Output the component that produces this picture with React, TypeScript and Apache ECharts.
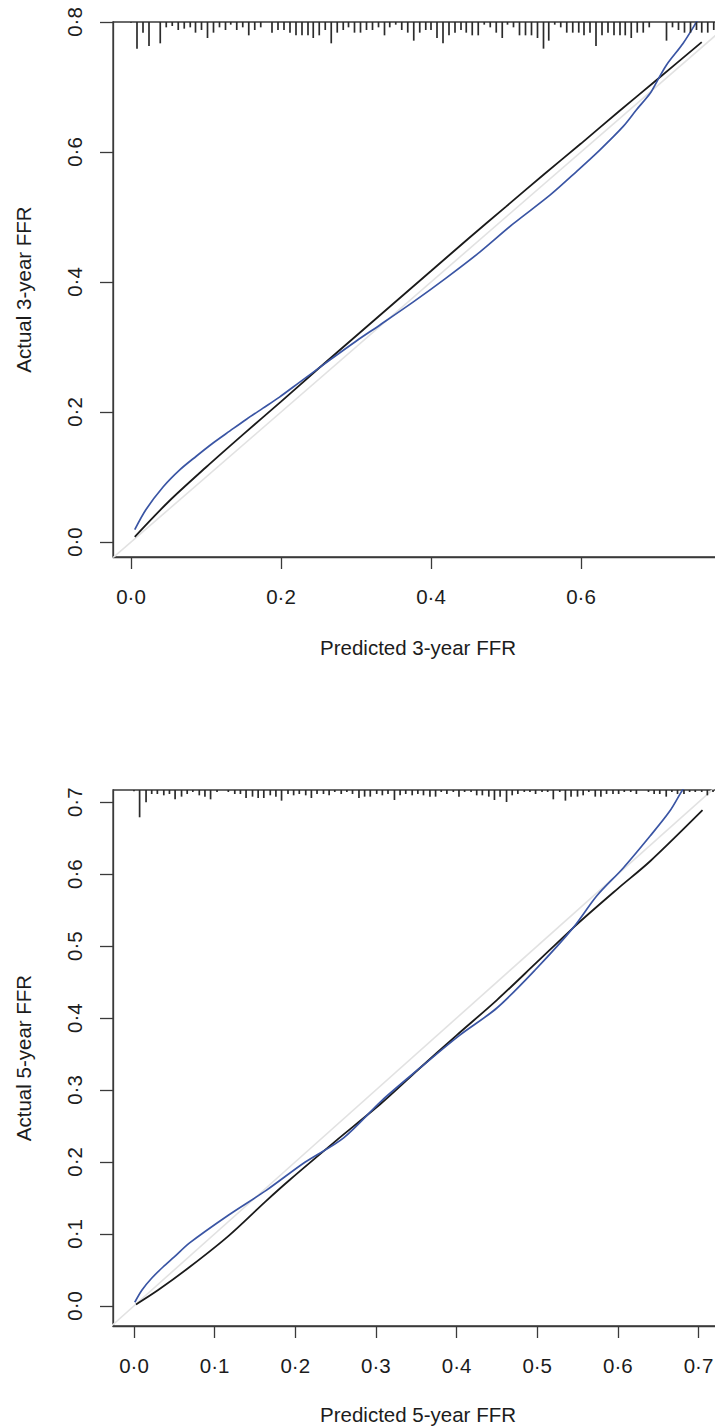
import React, { useEffect, useRef } from 'react';
import * as echarts from 'echarts';

// ---- Panel 1: 3-year FFR ----
const xTicks3 = [0, 0.2, 0.4, 0.6];
const yTicks3 = [0, 0.2, 0.4, 0.6, 0.8];
const black3: [number, number][] = [
  [0.005, 0.008], [0.05, 0.062], [0.1, 0.115], [0.15, 0.166], [0.2, 0.216], [0.25, 0.267],
  [0.3, 0.317], [0.35, 0.367], [0.4, 0.417], [0.45, 0.467], [0.5, 0.516], [0.55, 0.565],
  [0.6, 0.613], [0.65, 0.662], [0.7, 0.71], [0.761, 0.769],
];
const blue3: [number, number][] = [
  [0.005, 0.019], [0.02, 0.05], [0.043, 0.085], [0.065, 0.111], [0.087, 0.132], [0.109, 0.152],
  [0.132, 0.171], [0.154, 0.189], [0.176, 0.206], [0.198, 0.223], [0.225, 0.246], [0.265, 0.28],
  [0.3, 0.309], [0.332, 0.334], [0.376, 0.369], [0.42, 0.406], [0.465, 0.446], [0.509, 0.489],
  [0.559, 0.534], [0.594, 0.57], [0.625, 0.603], [0.656, 0.639], [0.674, 0.665], [0.692, 0.69],
  [0.701, 0.708], [0.714, 0.734], [0.736, 0.767], [0.754, 0.8], [0.76, 0.812],
];
// rug of predicted values: [predicted, relative frequency]
const rug3: [number, number][] = [
  [0.000, 0.25], [0.008, 10], [0.016, 4], [0.024, 9], [0.039, 8], [0.047, 2], [0.055, 1.5], [0.063, 3],
  [0.071, 2.5], [0.079, 2], [0.086, 4], [0.094, 3], [0.102, 6], [0.110, 4], [0.118, 2], [0.126, 3],
  [0.133, 1], [0.141, 3], [0.149, 2], [0.157, 5], [0.165, 3], [0.173, 2], [0.188, 4], [0.196, 3],
  [0.204, 3], [0.212, 4], [0.220, 5], [0.228, 5], [0.236, 5], [0.243, 6], [0.251, 5], [0.259, 3],
  [0.267, 8], [0.275, 4], [0.283, 3], [0.290, 2], [0.298, 4], [0.306, 4], [0.314, 3], [0.322, 3],
  [0.330, 2], [0.338, 5], [0.345, 2], [0.353, 1], [0.361, 3], [0.369, 4], [0.377, 7], [0.385, 4],
  [0.393, 3], [0.400, 3], [0.408, 6], [0.416, 8], [0.424, 5], [0.432, 4], [0.440, 3], [0.447, 4],
  [0.455, 5], [0.463, 5], [0.471, 1], [0.479, 2], [0.487, 4], [0.495, 6], [0.502, 1], [0.510, 2],
  [0.518, 5], [0.526, 5], [0.534, 5], [0.542, 6], [0.550, 10], [0.557, 7], [0.565, 1], [0.573, 2],
  [0.581, 4], [0.589, 4], [0.597, 4], [0.604, 5], [0.612, 4], [0.620, 9], [0.628, 5], [0.636, 4],
  [0.644, 5], [0.652, 5], [0.659, 5], [0.667, 6], [0.675, 4], [0.683, 4], [0.691, 2], [0.714, 7],
  [0.722, 2], [0.730, 3], [0.738, 4], [0.746, 4], [0.754, 3], [0.761, 4], [0.769, 4], [0.777, 3],
];

// ---- Panel 2: 5-year FFR ----
const xTicks5 = [0, 0.1, 0.2, 0.3, 0.4, 0.5, 0.6, 0.7];
const yTicks5 = [0, 0.1, 0.2, 0.3, 0.4, 0.5, 0.6, 0.7];
const black5: [number, number][] = [
  [0.0025, 0.002], [0.03, 0.022], [0.069, 0.054], [0.117, 0.097], [0.164, 0.146], [0.193, 0.175],
  [0.25, 0.229], [0.307, 0.282], [0.355, 0.331], [0.4, 0.376], [0.45, 0.425], [0.5, 0.478],
  [0.55, 0.531], [0.6, 0.58], [0.64, 0.618], [0.705, 0.689],
];
const blue5: [number, number][] = [
  [0.001, 0.005], [0.01, 0.022], [0.0216, 0.038], [0.036, 0.054], [0.05, 0.068], [0.069, 0.0875],
  [0.117, 0.126], [0.164, 0.1605], [0.212, 0.1996], [0.26, 0.2336], [0.307, 0.285], [0.355, 0.331],
  [0.4025, 0.375], [0.45, 0.414], [0.498, 0.4675], [0.545, 0.526], [0.574, 0.57], [0.607, 0.609],
  [0.64, 0.653], [0.664, 0.687], [0.678, 0.713], [0.682, 0.72],
];
const rug5: [number, number][] = [
  [0.000, 1], [0.007, 20.5], [0.015, 9.25], [0.022, 3], [0.029, 3], [0.037, 4], [0.044, 3], [0.051, 7],
  [0.059, 5], [0.066, 3], [0.073, 1.5], [0.081, 4], [0.088, 5], [0.095, 7], [0.103, 1.5], [0.117, 1.5],
  [0.125, 3], [0.132, 3], [0.139, 6], [0.147, 5], [0.154, 6], [0.161, 6], [0.169, 4], [0.176, 5],
  [0.183, 8], [0.191, 3], [0.198, 4], [0.205, 3], [0.213, 4], [0.220, 6], [0.227, 3], [0.235, 3],
  [0.242, 4], [0.249, 1.5], [0.257, 3], [0.264, 1.5], [0.271, 3], [0.279, 6], [0.286, 5], [0.293, 5],
  [0.301, 3], [0.308, 4], [0.315, 3], [0.323, 7.5], [0.330, 4], [0.337, 3], [0.345, 4], [0.352, 3],
  [0.359, 4], [0.367, 5], [0.374, 5], [0.381, 1.5], [0.388, 3], [0.396, 1.5], [0.403, 5], [0.410, 1.5],
  [0.418, 1.5], [0.425, 4], [0.432, 4], [0.440, 5], [0.447, 7.5], [0.454, 5], [0.462, 9], [0.469, 4],
  [0.476, 3], [0.484, 1.5], [0.491, 1.5], [0.498, 3], [0.506, 1.5], [0.513, 1.5], [0.520, 7], [0.528, 1.5],
  [0.535, 8], [0.542, 5], [0.550, 5], [0.557, 4], [0.564, 1.5], [0.572, 5], [0.579, 5], [0.586, 3],
  [0.594, 3], [0.601, 3], [0.608, 1.5], [0.616, 1.5], [0.623, 3], [0.638, 1.5], [0.645, 3], [0.652, 3],
  [0.660, 5], [0.667, 1.5], [0.674, 3], [0.682, 3], [0.689, 1.5], [0.696, 1.5], [0.704, 1.5], [0.711, 4],
  [0.718, 1.5],
];

const FONT = 'Liberation Sans, Arial, sans-serif';
const AXIS = '#3a3a3a';
const TEXT = '#1c1c1c';
const BLUE = '#3a55a4';
const BLACK = '#1a1a1a';
const GREY = '#e2e2e2';
const FS = 20.5;

const fmt = (v: number) => v.toFixed(1).replace('.', '\u00b7');

function xAxisCfg(gridIndex: number, min: number, max: number, ticks: number[], name: string, nameGap: number, padRight: number) {
  return {
    type: 'value', gridIndex, min, max,
    axisLine: { show: true, onZero: false, lineStyle: { color: AXIS, width: 1.3 } },
    axisTick: { show: true, length: 12, customValues: ticks, lineStyle: { color: AXIS, width: 1.3 } },
    axisLabel: { customValues: ticks, formatter: fmt, fontSize: FS, fontFamily: FONT, color: TEXT, margin: 29 },
    splitLine: { show: false },
    name, nameLocation: 'middle', nameGap,
    nameTextStyle: { fontSize: FS, fontFamily: FONT, color: TEXT, padding: [0, padRight, 0, 0] },
  };
}

function yAxisCfg(gridIndex: number, min: number, max: number, ticks: number[], name: string) {
  return {
    type: 'value', gridIndex, min, max,
    axisLine: { show: true, onZero: false, lineStyle: { color: AXIS, width: 1.3 } },
    axisTick: { show: true, length: 13, customValues: ticks, lineStyle: { color: AXIS, width: 1.3 } },
    axisLabel: { customValues: ticks, formatter: fmt, fontSize: FS, fontFamily: FONT, color: TEXT, margin: 28, rotate: 90 },
    splitLine: { show: false },
    name, nameLocation: 'middle', nameGap: 79,
    nameTextStyle: { fontSize: FS, fontFamily: FONT, color: TEXT },
  };
}

function rugRender(yTop: number, unit: number) {
  return (params: any, api: any) => {
    const x = api.value(0);
    const h = api.value(1);
    const p1 = api.coord([x, yTop]);
    const p2 = api.coord([x, yTop - h * unit]);
    return {
      type: 'line',
      shape: { x1: p1[0], y1: p1[1], x2: p2[0], y2: p2[1] },
      style: { stroke: '#2b2b2b', lineWidth: 1.7 },
    };
  };
}

function curve(idx: number, data: [number, number][], color: string, width: number, z: number, smooth: number | boolean) {
  return {
    type: 'line', xAxisIndex: idx, yAxisIndex: idx, data, showSymbol: false, smooth,
    lineStyle: { color, width }, silent: true, z,
  };
}

export default function App() {
  const ref = useRef<HTMLDivElement>(null);
  useEffect(() => {
    if (!ref.current) return;
    const chart = echarts.init(ref.current, undefined, { renderer: 'svg' });
    const Y3MAX = 0.8;
    const Y5MAX = 0.717;
    const diag: [number, number][] = [[-0.03, -0.03], [0.85, 0.85]];
    chart.setOption({
      animation: false,
      backgroundColor: '#ffffff',
      grid: [
        { left: 113, top: 22, width: 618, height: 535, show: true, borderColor: AXIS, borderWidth: 1.3, backgroundColor: 'transparent' },
        { left: 113, top: 790, width: 650, height: 536, show: true, borderColor: AXIS, borderWidth: 1.3, backgroundColor: 'transparent' },
      ],
      xAxis: [
        xAxisCfg(0, -0.024, 0.8, xTicks3, 'Predicted 3-year FFR', 80, 8),
        xAxisCfg(1, -0.026, 0.78, xTicks5, 'Predicted 5-year FFR', 78, 40),
      ],
      yAxis: [
        yAxisCfg(0, -0.023, Y3MAX, yTicks3, 'Actual 3-year FFR'),
        yAxisCfg(1, -0.028, Y5MAX, yTicks5, 'Actual 5-year FFR'),
      ],
      series: [
        curve(0, diag, GREY, 1.6, 1, false),
        curve(0, black3, BLACK, 1.8, 2, 0.3),
        curve(0, blue3, BLUE, 1.7, 3, 0.3),
        { type: 'custom', xAxisIndex: 0, yAxisIndex: 0, data: rug3, renderItem: rugRender(Y3MAX, 0.0041), silent: true, z: 4 },

        curve(1, diag, GREY, 1.6, 1, false),
        curve(1, black5, BLACK, 1.8, 2, 0.3),
        curve(1, blue5, BLUE, 1.7, 3, 0.3),
        { type: 'custom', xAxisIndex: 1, yAxisIndex: 1, data: rug5, renderItem: rugRender(Y5MAX, 0.00185), silent: true, z: 4 },
      ],
    });
    return () => chart.dispose();
  }, []);
  return (
    <div style={{ position: 'absolute', left: 0, top: 0, width: 715, height: 1427, overflow: 'hidden', background: '#fff' }}>
      <div ref={ref} style={{ width: 800, height: 1427 }} />
    </div>
  );
}
